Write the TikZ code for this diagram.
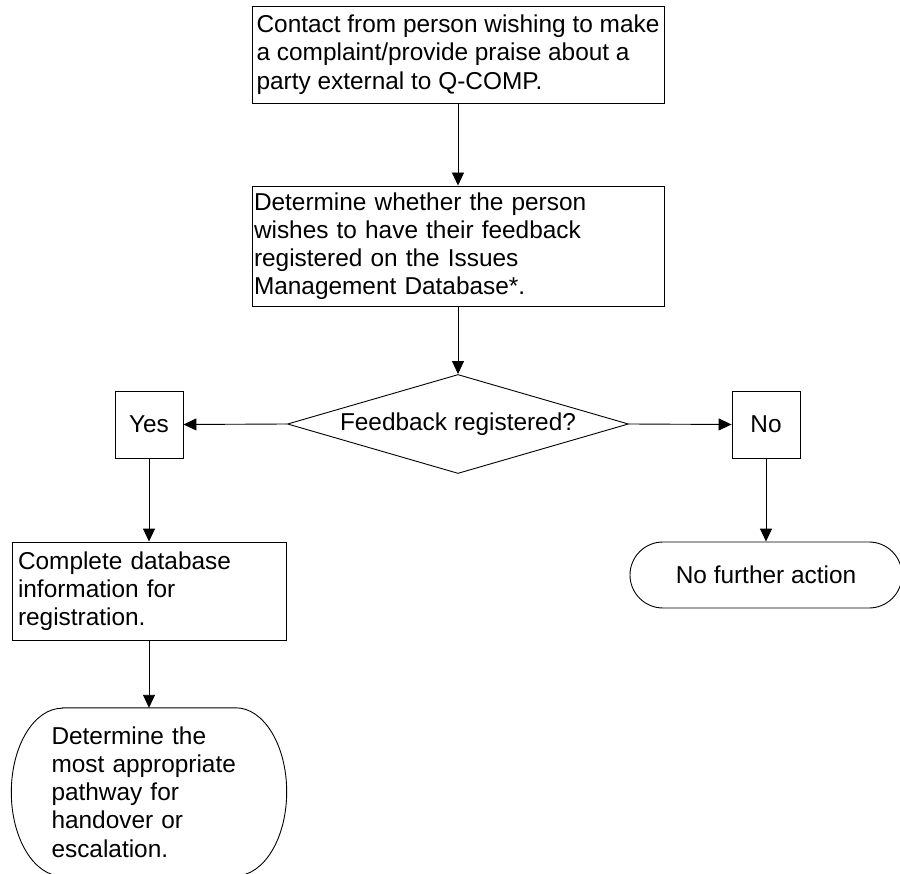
\documentclass[tikz,border=0pt]{standalone}
\usepackage{fontspec}
\setmainfont{Liberation Sans}
\usetikzlibrary{shapes.geometric,shapes.misc,arrows.meta}

\begin{document}
\begin{tikzpicture}[x=1pt,y=-1pt,
    every node/.style={font=\fontsize{24.4}{28.2}\selectfont, inner sep=0pt},
    stepbox/.style={draw, rectangle, align=left, inner xsep=2pt, line width=0.9pt},
    flow/.style={-{Triangle[length=13pt,width=12pt]}, line width=0.9pt}]
  \useasboundingbox (0,0) rectangle (900,874);

  \node[stepbox, minimum width=412pt, minimum height=97pt] (contact) at (458,54.5)
    {Contact from person wishing to make\\a complaint/provide praise about a\\party external to Q-COMP.};
  \node[stepbox, minimum width=412pt, minimum height=120pt, text width=408pt] (wish) at (458,246)
    {Determine whether the person\\wishes to have their feedback\\registered on the Issues\\Management Database*.};
  \node[draw, diamond, aspect=3.44, minimum width=341pt, minimum height=99pt, line width=0.9pt] (reg) at (458,424)
    {Feedback registered?};
  \node[stepbox, minimum width=68pt, minimum height=67pt] (yes) at (149,424.5) {Yes};
  \node[stepbox, minimum width=68pt, minimum height=67pt] (no) at (766,424.5) {No};
  \node[stepbox, inner xsep=6pt, minimum width=274pt, minimum height=98pt, text width=262pt] (complete) at (149,591)
    {Complete database\\information for\\registration.};
  \node[align=left, minimum width=275pt, minimum height=168pt, text width=195pt] (hand) at (149,792)
    {Determine the\\most appropriate\\pathway for\\handover or\\escalation.};
  \draw[line width=0.9pt] ([xshift=51pt]hand.north west) -- ([xshift=-51pt]hand.north east)
    arc[start angle=-90, end angle=90, x radius=51, y radius=84]
    -- ([xshift=51pt]hand.south west)
    arc[start angle=90, end angle=270, x radius=51, y radius=84] -- cycle;
  \node[draw, rounded rectangle, minimum width=272pt, minimum height=66pt, line width=0.9pt] (nfa) at (766,575)
    {No further action};

  \draw[flow] (contact.south) -- (wish.north);
  \draw[flow] (wish.south) -- (reg.north);
  \draw[flow] (reg.west) -- (yes.east);
  \draw[flow] (reg.east) -- (no.west);
  \draw[flow] (yes.south) -- (complete.north);
  \draw[flow] (complete.south) -- (hand.north);
  \draw[flow] (no.south) -- (nfa.north);
\end{tikzpicture}
\end{document}
